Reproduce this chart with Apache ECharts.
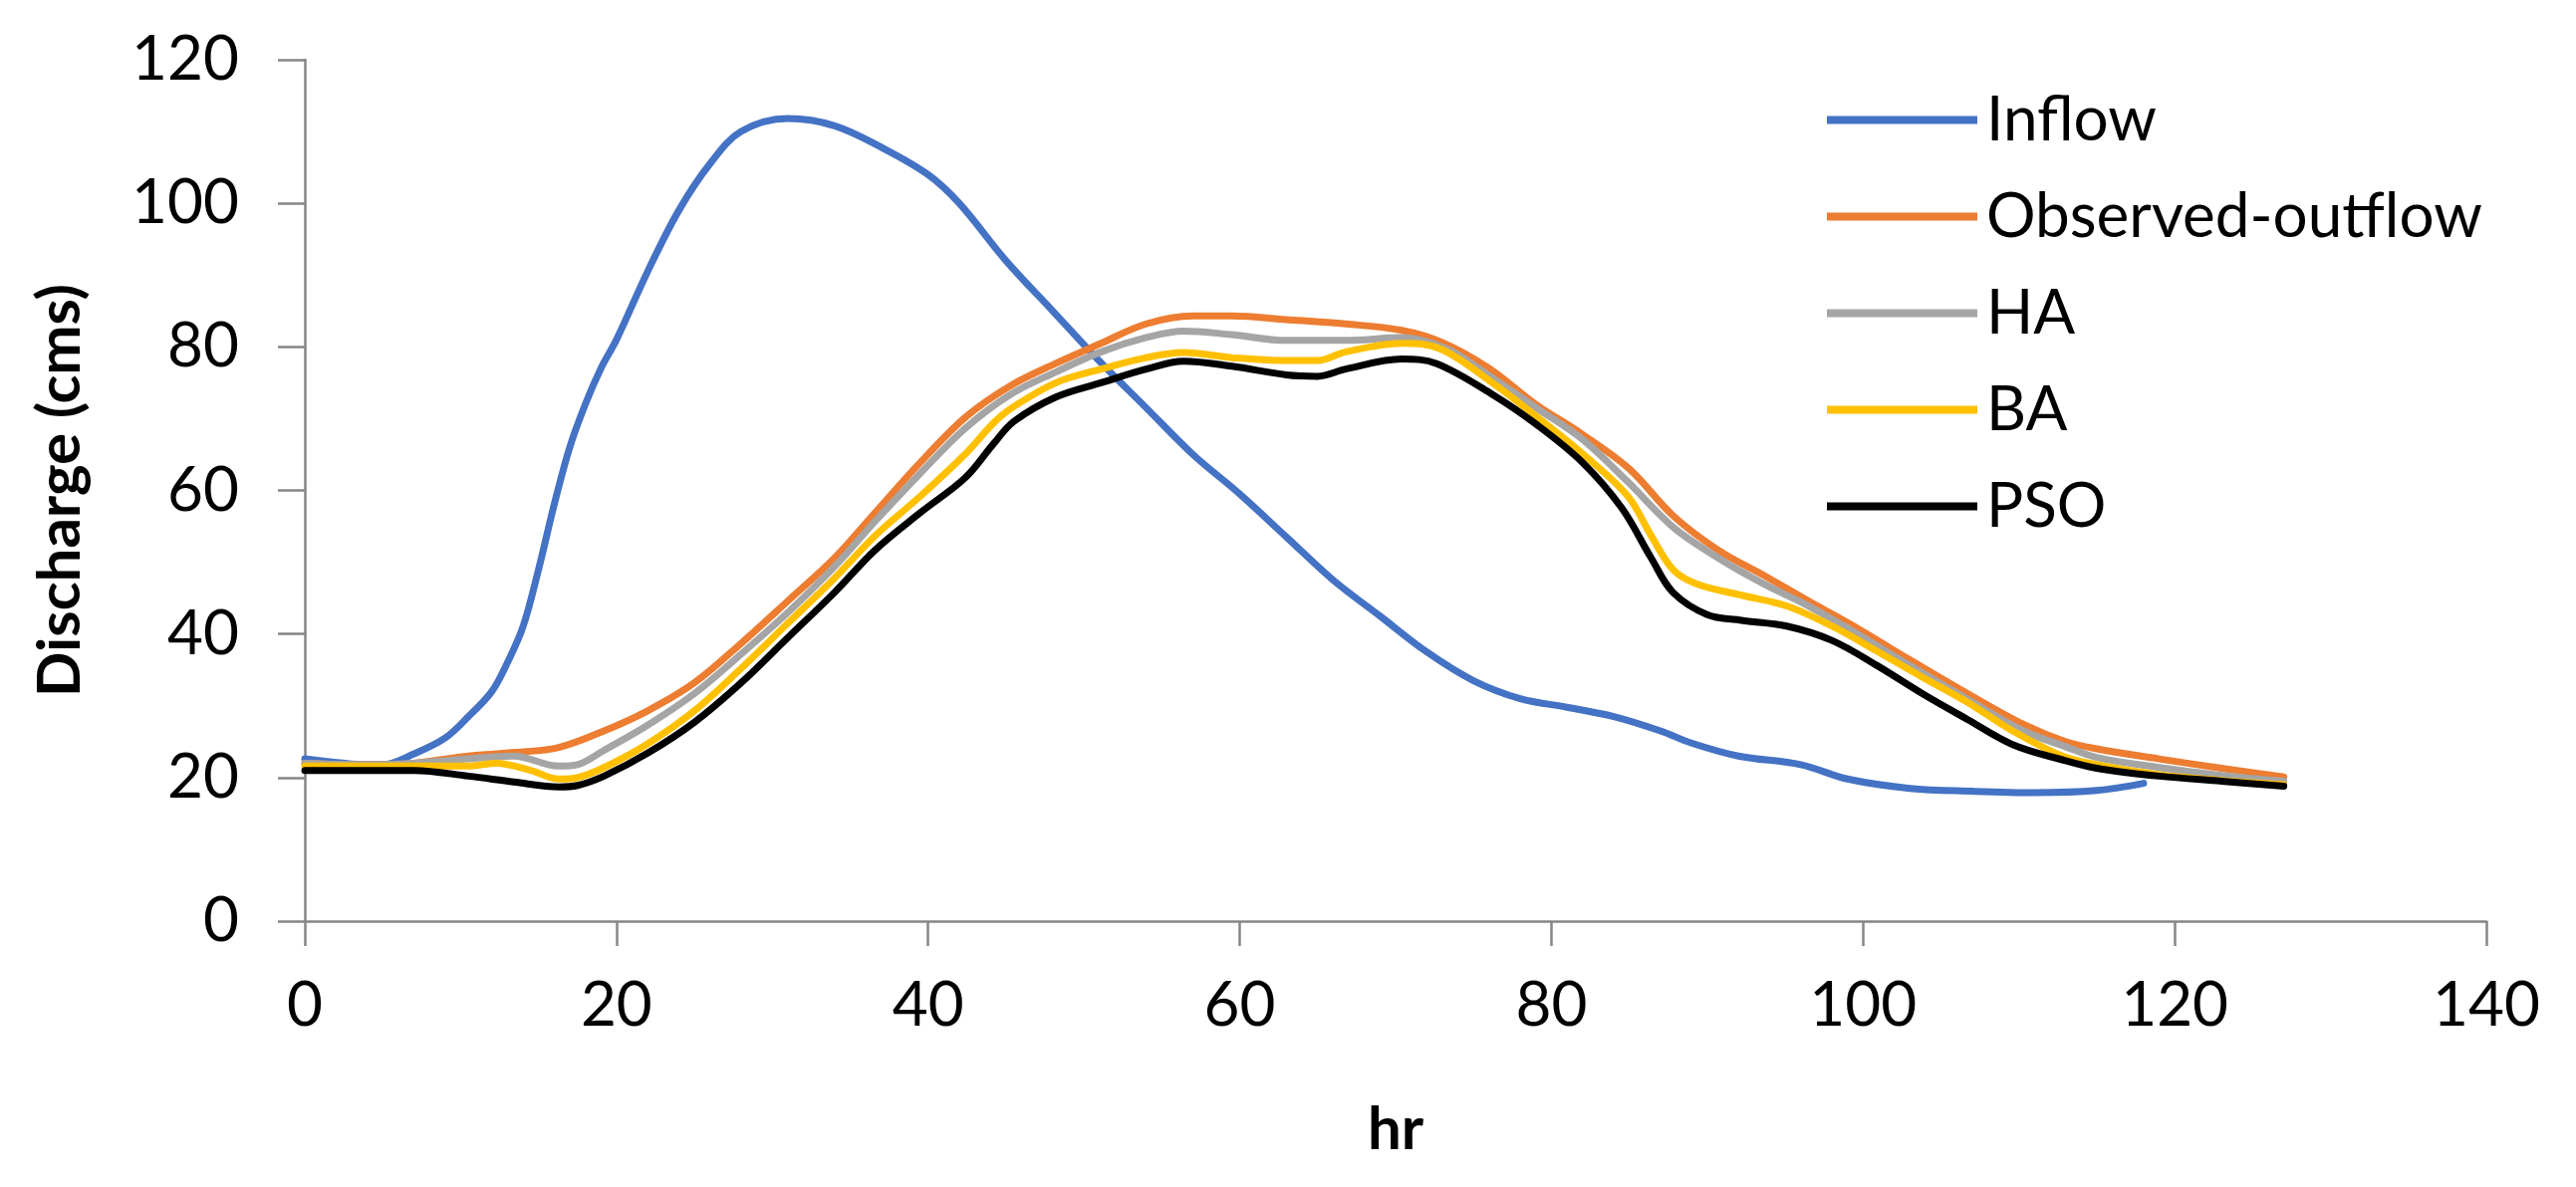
<!DOCTYPE html>
<html>
<head>
<meta charset="utf-8">
<script src="https://cdn.jsdelivr.net/npm/echarts@6/dist/echarts.min.js"></script>
<style>
html,body{margin:0;padding:0;background:#fff;}
#chart{width:2586px;height:1192px;}
</style>
</head>
<body>
<div id="chart"></div>
<script>
// ---- data (hr, discharge in cms) ----
var seriesNames = ['Inflow', 'Observed-outflow', 'HA', 'BA', 'PSO'];
var xTicks = [0, 20, 40, 60, 80, 100, 120, 140];
var yTicks = [0, 20, 40, 60, 80, 100, 120];

var inflow = [[0,22.6],[3,21.9],[5,21.8],[7,23.3],[9,25.5],[10.5,28.5],[12,32],[13,36],[14,41],[15,49],[16,58],[17,66],[18,72],[19,77],[20,81],[22,90.5],[24,99],[26,105.5],[28,110],[31,111.8],[34,110.8],[37,107.8],[40,104],[42,100],[45,92],[48,85],[51,78],[54,71.5],[57,65],[60,59.5],[63,53.5],[66,47.5],[69,42.5],[72,37.5],[75,33.5],[78,31],[81,29.8],[84,28.5],[87,26.5],[89,24.8],[92,23],[96,21.8],[99,19.8],[103,18.5],[107,18.1],[111,17.9],[115,18.2],[118,19.2]];

var observed = [[0,22],[4,21.8],[7,22],[10.5,23],[13.5,23.5],[16.3,24.2],[19.2,26.5],[22,29.3],[25,33.2],[28,38.7],[31,44.6],[34,50.6],[36.6,56.9],[39.5,63.9],[42.4,70.2],[45.3,74.6],[48.2,77.7],[51.1,80.5],[54,83.2],[57,84.3],[59.5,84.3],[63,83.8],[66.8,83.2],[70.4,82.3],[73,80.6],[76,77],[79,72],[82,67.8],[85,63],[87.8,56.5],[90.7,51.7],[93.6,48.2],[96.5,44.6],[99.4,41.1],[103,36.4],[106.7,31.7],[110.3,27.4],[113,25],[115,24],[119,22.6],[123,21.3],[127,20.1]];

var ha = [[0,22],[4,21.8],[7,22],[10.5,22.6],[13.4,23],[16.3,21.6],[17.5,21.8],[19.2,23.8],[22,27.3],[25,31.7],[28,37.2],[31,43],[34,49.4],[36.6,55.7],[39.5,62.4],[42.4,68.7],[45.3,73.4],[48.2,76.5],[51.1,79.3],[54,81.3],[56.4,82.2],[59.5,81.7],[63,80.9],[66.8,80.9],[70.4,81.3],[73.3,79.7],[76.2,75.7],[79.1,71.4],[82,67.1],[84.9,61.2],[87.8,54.9],[90.7,50.6],[93.6,47],[96.5,43.9],[99.4,40.3],[103,35.6],[106.7,30.9],[110.3,26.5],[113,24.3],[115,22.8],[119,21.4],[123,20.3],[127,19.5]];

var ba = [[0,21.6],[7,21.6],[10.5,21.6],[12.3,22],[14.5,21],[16.3,19.8],[17.5,20],[19.2,21.4],[22,24.7],[25,29.3],[28,35.2],[31,41.5],[34,47.8],[36.6,53.7],[39.5,59.2],[42.4,65.1],[44.2,69.4],[45.3,71.4],[48.2,75],[51.1,76.9],[54,78.5],[56.4,79.2],[59.5,78.5],[63,78.1],[65,78.1],[66.8,79.3],[70.4,80.5],[72.9,79.7],[76.2,75],[79.1,70.2],[82,65.1],[84.9,59.2],[86.4,53.7],[87.8,49],[89.3,47],[92.2,45.4],[95.1,43.9],[98,41.1],[100.9,37.6],[103.8,34],[106.7,30.5],[109.6,26.5],[112.8,23],[115,21.8],[119,20.4],[123,19.6],[127,19]];

var pso = [[0,21],[7,21],[10.5,20.2],[13.4,19.4],[16.3,18.7],[17.5,18.9],[19.2,20.2],[22,23.4],[25,27.7],[28,33.2],[31,39.5],[34,45.8],[36.6,51.7],[39.5,56.9],[42.4,61.8],[44.2,66.5],[45.5,69.6],[48.2,73],[51.1,75],[54,76.9],[56.4,78],[59.5,77.3],[63,76.1],[65,75.9],[66.8,76.9],[70.4,78.3],[72.6,77.7],[76.2,73.4],[79.1,69.1],[82,63.9],[84.5,57.6],[86.4,50.6],[87.8,45.8],[90,42.7],[92.2,41.9],[95.1,41.1],[98,39.1],[100.9,35.6],[103.8,31.7],[106.7,28.1],[109.6,24.6],[112.9,22.4],[115,21.3],[119,20.2],[123,19.5],[127,18.8]];

var colors = ['#4472C4', '#ED7D31', '#A5A5A5', '#FFC000', '#000000'];
var allData = [inflow, observed, ha, ba, pso];

var FONT = 'Lato';
var axisColor = '#868686';

var chart = echarts.init(document.getElementById('chart'), null, {renderer: 'canvas'});

var series = seriesNames.map(function (name, i) {
  return {
    name: name,
    type: 'line',
    data: allData[i],
    smooth: 0.35,
    symbol: 'none',
    lineStyle: {color: colors[i], width: 7, cap: 'round', join: 'round'},
    itemStyle: {color: colors[i]},
    z: 2 + i
  };
});

chart.setOption({
  animation: false,
  backgroundColor: '#ffffff',
  textStyle: {fontFamily: FONT},
  grid: {left: 306, right: 90, top: 60, bottom: 267, containLabel: false},
  legend: {
    data: seriesNames,
    orient: 'vertical',
    left: 1829,
    top: 84,
    icon: 'rect',
    itemWidth: 151,
    itemHeight: 8,
    itemGap: 34,
    textStyle: {fontFamily: FONT, fontSize: 62, color: '#000', lineHeight: 63, padding: [0, 0, 0, 4]}
  },
  xAxis: {
    type: 'value',
    min: xTicks[0],
    max: xTicks[xTicks.length - 1],
    interval: xTicks[1] - xTicks[0],
    name: 'hr',
    nameLocation: 'middle',
    nameGap: 180,
    nameTextStyle: {fontFamily: FONT, fontSize: 60, fontWeight: 'bold', color: '#000'},
    axisLine: {show: true, onZero: false, lineStyle: {color: axisColor, width: 2.5}},
    axisTick: {show: true, inside: false, length: 25, lineStyle: {color: axisColor, width: 2.5}},
    axisLabel: {fontFamily: FONT, fontSize: 62, color: '#000', margin: 54},
    splitLine: {show: false}
  },
  yAxis: {
    type: 'value',
    min: yTicks[0],
    max: yTicks[yTicks.length - 1],
    interval: yTicks[1] - yTicks[0],
    name: 'Discharge (cms)',
    nameLocation: 'middle',
    nameGap: 215,
    nameTextStyle: {fontFamily: FONT, fontSize: 60, fontWeight: 'bold', color: '#000'},
    axisLine: {show: true, lineStyle: {color: axisColor, width: 2.5}},
    axisTick: {show: true, inside: false, length: 27, lineStyle: {color: axisColor, width: 2.5}},
    axisLabel: {fontFamily: FONT, fontSize: 62, color: '#000', margin: 66},
    splitLine: {show: false}
  },
  series: series
});
</script>
</body>
</html>
